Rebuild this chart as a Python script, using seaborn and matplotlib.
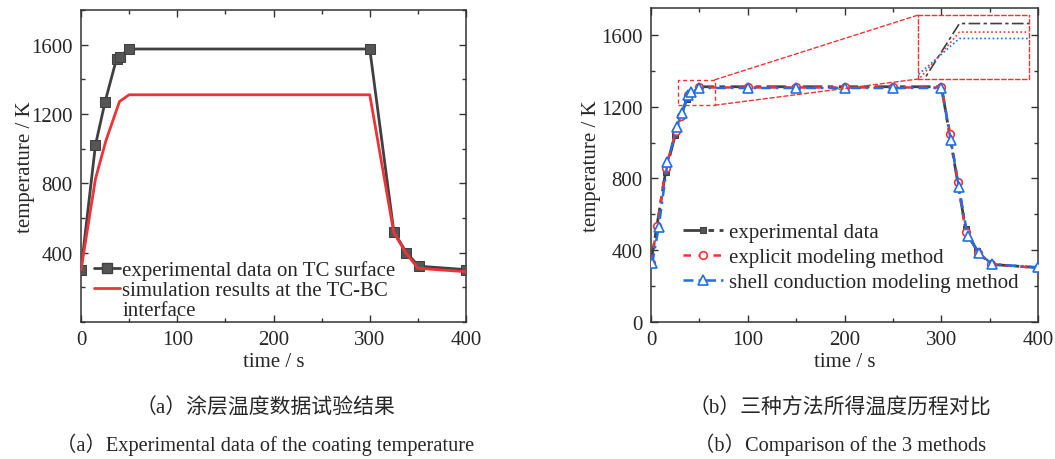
import numpy as np
import pandas as pd
import seaborn as sns
import matplotlib
matplotlib.use("Agg")
import matplotlib.pyplot as plt
from matplotlib.patches import Rectangle, ConnectionPatch
from matplotlib.lines import Line2D
from matplotlib.ticker import MultipleLocator

# ---------------- data ----------------
# (a) coating temperature
a_exp_t = [0, 15, 25, 37, 40, 50, 300, 325, 338, 351, 400]
a_exp_T = [300, 1020, 1270, 1520, 1530, 1575, 1575, 522, 400, 322, 302]
a_sim_t = [0, 15, 26, 40, 50, 300, 325, 338, 350, 400]
a_sim_T = [300, 825, 1048, 1272, 1311, 1311, 515, 395, 310, 290]

# (b) three methods
b_exp_t = [0, 15, 25, 37, 50, 300, 325, 337, 351, 400]
b_exp_T = [330, 834, 1042, 1246, 1312, 1312, 517, 393, 320, 302]
b_expl_t = [0, 6.5, 15, 26, 31, 38.5, 50, 100, 150, 200, 250, 300, 309, 317, 325, 338, 351, 400]
b_expl_T = [330, 535, 857, 1066, 1149, 1265, 1308, 1308, 1308, 1308, 1308, 1308, 1049, 781, 499, 386, 320, 300]
b_shell_t = [1.3, 8, 17, 26.5, 32, 38, 41.5, 50, 100, 150, 200, 250, 300, 309.6, 318, 327, 339, 352, 400]
b_shell_T = [327, 530, 889, 1088, 1168, 1265, 1281, 1305, 1305, 1305, 1305, 1305, 1305, 1014, 750, 480, 383, 322, 303]

labels_a = ["experimental data on TC surface", "simulation results at the TC-BC\ninterface"]
labels_b = ["experimental data", "explicit modeling method", "shell conduction modeling method"]
cap_a_cn = "（a）涂层温度数据试验结果"
cap_a_en = "（a）Experimental data of the coating temperature"
cap_b_cn = "（b）三种方法所得温度历程对比"
cap_b_en = "（b）Comparison of the 3 methods"

# ---------------- style ----------------
sns.set_theme(style="ticks")
plt.rcParams["font.family"] = ["Liberation Serif", "Noto Sans CJK SC", "DejaVu Sans"]
FS = 15

GRAY = "#404040"
RED = "#ee3338"
BLUE = "#1f6fe6"

fig = plt.figure(figsize=(10.55, 4.6), dpi=100)
axA = fig.add_axes([81/1055, 1-323/460, (466-81)/1055, (323-11)/460])
axB = fig.add_axes([651/1055, 1-322.7/460, (1038.3-651)/1055, (322.7-9.3)/460])

def style_axes(ax, xlim, ylim, yticks, ylpad):
    ax.set_xlim(*xlim)
    ax.set_ylim(*ylim)
    ax.set_xticks([0, 100, 200, 300, 400])
    ax.set_yticks(yticks)
    ax.xaxis.set_minor_locator(MultipleLocator(50))
    ax.yaxis.set_minor_locator(MultipleLocator(200))
    ax.tick_params(which="both", direction="in", top=True, right=True,
                   labelsize=FS, color="#333333", pad=6)
    ax.tick_params(which="major", length=5, width=1)
    ax.tick_params(which="minor", length=3, width=1)
    for s in ax.spines.values():
        s.set_color("#333333")
        s.set_linewidth(1.1)
    ax.set_xlabel("time / s", fontsize=FS, labelpad=2)
    ax.set_ylabel("temperature / K", fontsize=FS, labelpad=ylpad)

# ---------- panel (a) ----------
dfa1 = pd.DataFrame({"t": a_exp_t, "T": a_exp_T})
dfa2 = pd.DataFrame({"t": a_sim_t, "T": a_sim_T})
sns.lineplot(data=dfa1, x="t", y="T", ax=axA, color=GRAY, lw=2, marker="s",
             markersize=6.5, markeredgecolor=GRAY, markerfacecolor="#555555",
             estimator=None, sort=False, legend=False, zorder=3)
sns.lineplot(data=dfa2, x="t", y="T", ax=axA, color=RED, lw=2,
             estimator=None, sort=False, legend=False, zorder=4)
style_axes(axA, (0, 400), (0, 1800), [400, 800, 1200, 1600], -3)
sim_lines = labels_a[1].split("\n")
hA = [Line2D([], [], color=GRAY, lw=2, marker="s", markersize=6.5,
             markerfacecolor="#555555", markeredgecolor=GRAY),
      Line2D([], [], color=RED, lw=2),
      Line2D([], [], color="none")]
axA.legend(hA, [labels_a[0]] + sim_lines, loc="lower left",
           bbox_to_anchor=(0.034, 0.008), frameon=False, fontsize=FS,
           handlelength=1.25, handletextpad=0.1, labelspacing=0.0,
           borderaxespad=0, borderpad=0)

# ---------- panel (b) ----------
dfb1 = pd.DataFrame({"t": b_exp_t, "T": b_exp_T})
dfb2 = pd.DataFrame({"t": b_expl_t, "T": b_expl_T})
dfb3 = pd.DataFrame({"t": b_shell_t, "T": b_shell_T})
ls_exp = (0, (7, 2, 2, 2))
ls_expl = (0, (3, 3))
ls_shell = (0, (4, 2, 1, 2))
sns.lineplot(data=dfb1, x="t", y="T", ax=axB, color=GRAY, lw=2, linestyle=ls_exp,
             marker="s", markersize=5, markeredgecolor=GRAY, markerfacecolor="#555555",
             estimator=None, sort=False, label=labels_b[0], zorder=3)
sns.lineplot(data=dfb2, x="t", y="T", ax=axB, color=RED, lw=1.8, linestyle=ls_expl,
             marker="o", markersize=5.5, markeredgecolor=RED, markerfacecolor="white",
             markeredgewidth=1.2, estimator=None, sort=False, label=labels_b[1], zorder=4)
sns.lineplot(data=dfb3, x="t", y="T", ax=axB, color=BLUE, lw=1.8, linestyle=ls_shell,
             marker="^", markersize=6.5, markeredgecolor=BLUE, markerfacecolor="white",
             markeredgewidth=1.2, estimator=None, sort=False, label=labels_b[2], zorder=5)
style_axes(axB, (0, 400), (0, 1750), [0, 400, 800, 1200, 1600], 0)
axB.legend(loc="lower left", bbox_to_anchor=(0.083, 0.095), frameon=False, fontsize=FS,
           handlelength=1.9, handletextpad=0.3, labelspacing=0.25,
           borderaxespad=0, borderpad=0)

# zoom indicator
zx0, zx1, zy0, zy1 = 28, 66, 1209, 1351
axB.add_patch(Rectangle((zx0, zy0), zx1 - zx0, zy1 - zy0, fill=False,
                        edgecolor=RED, lw=1, linestyle=(0, (3, 2)), zorder=6))
ins_l, ins_r, ins_t, ins_b = 918.3, 1029.3, 16, 80
axI = fig.add_axes([ins_l/1055, 1-ins_b/460, (ins_r-ins_l)/1055, (ins_b-ins_t)/460])
for d, c, ls in [(dfb1, GRAY, ls_exp), (dfb2, RED, (0, (1, 1.5))), (dfb3, BLUE, (0, (1, 1.5)))]:
    sns.lineplot(data=d, x="t", y="T", ax=axI, color=c, lw=1.2, linestyle=ls,
                 estimator=None, sort=False, legend=False)
axI.set_xlim(44, 60.2)
axI.set_ylim(1286, 1316)
axI.set_xticks([]); axI.set_yticks([])
axI.set_xlabel(""); axI.set_ylabel("")
axI.patch.set_alpha(0)
for s in axI.spines.values():
    s.set_color(RED); s.set_linestyle((0, (3, 2))); s.set_linewidth(1)
for (xa, ya), (xb, yb) in [((zx1, zy1), (0, 1)), ((zx1, zy0), (0, 0))]:
    cp = ConnectionPatch(xyA=(xa, ya), coordsA=axB.transData, xyB=(xb, yb),
                         coordsB=axI.transAxes, color=RED, lw=1, linestyle=(0, (3, 2)))
    fig.add_artist(cp)

# captions
cxA = 265 / 1055
cxB = 840 / 1055
fig.text(cxA, 1-409/460, cap_a_cn, ha="center", va="center", fontsize=15)
fig.text(cxA, 1-445/460, cap_a_en, ha="center", va="center", fontsize=14.7)
fig.text(cxB, 1-409/460, cap_b_cn, ha="center", va="center", fontsize=15)
fig.text(cxB, 1-445/460, cap_b_en, ha="center", va="center", fontsize=14.7)

fig.savefig("out.png", dpi=100)
